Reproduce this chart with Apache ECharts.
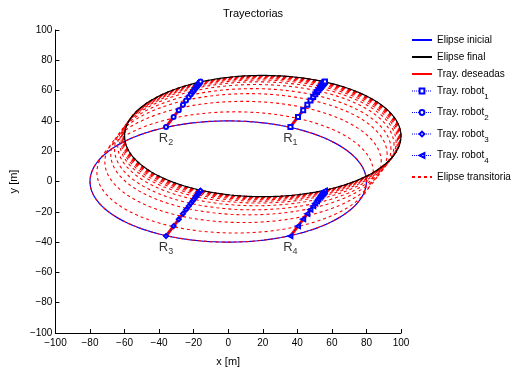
<!DOCTYPE html>
<html><head><meta charset="utf-8">
<script src="https://cdn.jsdelivr.net/npm/echarts@6/dist/echarts.min.js"></script>
<style>html,body{margin:0;padding:0;background:#fff}#c{width:512px;height:372px}</style>
</head><body><div id="c"></div>
<script>
// ---- data ----
var axisTicks = [-100,-80,-60,-40,-20,0,20,40,60,80,100];
var ellipseSemiAxes = [80, 40];            // a (x), b (y)
var initialCenter = [0, 0];
var finalCenter = [20, 30];
var transCenterX = [0, 4, 8.6, 12, 14.2, 16, 17.2, 18, 18.6, 19, 19.3, 19.5, 19.65, 19.78, 19.87, 19.93, 19.97];
var transCenterY = [0, 6, 12.9, 18, 21.3, 24, 25.8, 27, 27.9, 28.5, 28.95, 29.25, 29.48, 29.67, 29.8, 29.9, 29.95];
var robotNames = ['R1','R2','R3','R4'];
var robotStartX = [36, -36, -36, 36];
var robotStartY = [36, 36, -36, -36];
var robotEndX = [56, -16, -16, 56];
var robotEndY = [66, 66, -6, -6];
var robotProgress = [0, 0.22, 0.37, 0.49, 0.58, 0.66, 0.72, 0.77, 0.81, 0.85, 0.88, 0.9, 0.92, 0.94, 0.95, 0.96, 0.97, 0.98, 0.99, 1];
var robotSymbols = ['emptyRect','emptyCircle','emptyDiamond','emptyTriangle'];
var robotRotate = [0, 0, 0, 90];
var legendNames = ['Elipse inicial','Elipse final','Tray. deseadas','Tray. robot1','Tray. robot2','Tray. robot3','Tray. robot4','Elipse transitoria'];

function ellipse(cx, cy){
  var pts=[], N=240;
  for (var i=0;i<=N;i++){ var t=2*Math.PI*i/N; pts.push([cx+ellipseSemiAxes[0]*Math.cos(t), cy+ellipseSemiAxes[1]*Math.sin(t)]); }
  return pts;
}
var FONT = 'Liberation Sans';
var series = [];
series.push({name:'Elipse inicial', type:'line', data:ellipse(initialCenter[0],initialCenter[1]), showSymbol:false, symbol:'none', lineStyle:{color:'#0000ff', width:1.2}, itemStyle:{color:'#0000ff'}, z:2, animation:false});
for (var k=0;k<transCenterX.length;k++){
  series.push({name:'Elipse transitoria', type:'line', data:ellipse(transCenterX[k],transCenterY[k]), showSymbol:false, symbol:'none', lineStyle:{color:'#ff0000', width:1.1, type:[3,3]}, itemStyle:{color:'#ff0000'}, z:3, animation:false});
}
series.push({name:'Elipse final', type:'line', data:ellipse(finalCenter[0],finalCenter[1]), showSymbol:false, symbol:'none', lineStyle:{color:'#000000', width:1.2}, itemStyle:{color:'#000000'}, z:4, animation:false});
for (var r=0;r<4;r++){
  series.push({name:'Tray. deseadas', type:'line', data:[[robotStartX[r],robotStartY[r]],[robotEndX[r],robotEndY[r]]], showSymbol:false, symbol:'none', lineStyle:{color:'#ff0000', width:3}, itemStyle:{color:'#ff0000'}, z:5, animation:false});
}
for (var r=0;r<4;r++){
  var pts = robotProgress.map(function(p){ return [robotStartX[r]+p*(robotEndX[r]-robotStartX[r]), robotStartY[r]+p*(robotEndY[r]-robotStartY[r])]; });
  series.push({name:'Tray. robot'+(r+1), type:'line', data:pts, symbol:robotSymbols[r], symbolRotate:robotRotate[r], symbolSize:4, showSymbol:true,
    lineStyle:{color:'#0000ff', width:1, type:'dotted'}, itemStyle:{color:'#0000ff', borderWidth:1.5}, z:6, animation:false});
}
series.push({name:'labels', type:'scatter', symbolSize:0, z:7, silent:true, animation:false,
  data: robotNames.map(function(n,i){ return {value:[robotStartX[i],robotStartY[i]], name:n}; }),
  label:{show:true, position:'bottom', distance:3, color:'#000', fontFamily:FONT,
    formatter:function(p){ return 'R{s|'+p.name.slice(1)+'}'; },
    rich:{s:{fontSize:9, fontFamily:FONT, color:'#000', padding:[8,0,0,0]}}, fontSize:13}});

var minus = function(v){ return String(v).replace('-', '\u2212'); };
var legendData = legendNames.map(function(n){
  return /robot/.test(n) ? {name:n, lineStyle:{width:1}} : {name:n, itemStyle:{opacity:0}};
});
var option = {
  backgroundColor:'#fff',
  animation:false,
  graphic:[{type:'text', left:223, top:8, style:{text:'Trayectorias', font:'11px '+FONT, fill:'#000', textAlign:'center'}}],
  grid:{left:45, right:111, top:30, bottom:35, containLabel:false},
  legend:{orient:'vertical', left:406, top:30, itemWidth:20, itemHeight:6, itemGap:7,
    data:legendData, selectedMode:false,
    textStyle:{fontFamily:FONT, fontSize:10, color:'#000', rich:{a:{fontFamily:FONT, fontSize:10, color:'#000'}, s:{fontFamily:FONT, fontSize:8, color:'#000', padding:[11,0,0,0]}}},
    formatter:function(n){ var m=n.match(/^Tray\. robot(\d)$/); return m ? '{a|Tray. robot}{s|'+m[1]+'}' : n; }},
  xAxis:{type:'value', min:-100, max:100, interval:20, name:'x [m]', nameLocation:'middle', nameGap:23,
    nameTextStyle:{fontFamily:FONT, fontSize:11, color:'#000'},
    axisLine:{onZero:false, lineStyle:{color:'#000', width:1}}, axisTick:{inside:true, length:4, lineStyle:{color:'#000'}},
    axisLabel:{fontFamily:FONT, fontSize:10, color:'#000', margin:5, formatter:minus}, splitLine:{show:false}},
  yAxis:{type:'value', min:-100, max:100, interval:20, name:'y [m]', nameLocation:'middle', nameGap:29,
    nameTextStyle:{fontFamily:FONT, fontSize:11, color:'#000'},
    axisLine:{onZero:false, lineStyle:{color:'#000', width:1}}, axisTick:{inside:true, length:4, lineStyle:{color:'#000'}},
    axisLabel:{fontFamily:FONT, fontSize:10, color:'#000', margin:3, formatter:minus}, splitLine:{show:false}},
  series:series
};
var chart = echarts.init(document.getElementById('c'), null, {renderer:'canvas'});
chart.setOption(option);
</script></body></html>
